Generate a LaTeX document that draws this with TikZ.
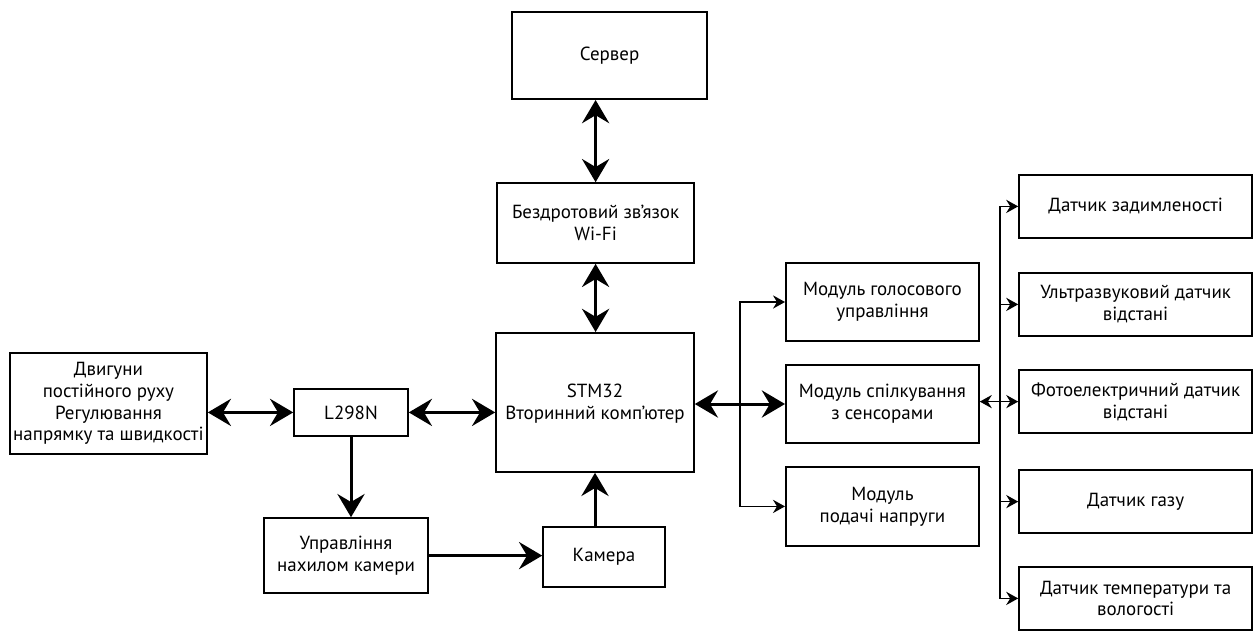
\documentclass[tikz,border=0pt]{standalone}
\usepackage{fontspec}
\setmainfont{PT Sans}
\usetikzlibrary{arrows.meta}
\begin{document}
\begin{tikzpicture}[
  blok/.style={draw,line width=0.4mm,align=center,inner sep=0pt,
    font=\fontsize{13.5}{15.5}\selectfont},
  bigtip/.tip={Stealth[length=5.8mm,width=6.8mm,inset=2mm]},
  smalltip/.tip={Stealth[length=3mm,width=3.3mm,inset=1mm]},
  bigboth/.style={line width=0.75mm,bigtip-bigtip},
  bigone/.style={line width=0.75mm,-bigtip},
  smallone/.style={line width=0.4mm,-smalltip}]
\useasboundingbox (0mm,0mm) rectangle (313.5mm,-157.75mm);
% central column
\node[blok,minimum width=48.8mm,minimum height=21.8mm] (srv) at (152.4mm,-13.9mm) {Сервер};
\node[blok,minimum width=49.3mm,minimum height=20mm] (wifi) at (148.9mm,-55.75mm)
  {Бездротовий зв’язок\\Wi-Fi};
\node[blok,minimum width=49.5mm,minimum height=34.8mm] (stm) at (148.75mm,-100.6mm)
  {STM32\\Вторинний комп’ютер\\[-5mm]\mbox{}};
% left part
\node[blok,minimum width=49.3mm,minimum height=25.3mm] (motor) at (27.1mm,-100.9mm)
  {Двигуни\\постійного руху\\Регулювання\\напрямку та швидкості};
\node[blok,minimum width=28.5mm,minimum height=11.8mm] (l298n) at (87.75mm,-103.1mm) {L298N};
\node[blok,minimum width=41mm,minimum height=18.8mm] (tilt) at (86.5mm,-138.9mm)
  {Управління\\нахилом камери};
\node[blok,minimum width=30.5mm,minimum height=15mm] (cam) at (151mm,-139.25mm) {Камера};
% modules
\node[blok,minimum width=48.3mm,minimum height=19.5mm] (voice) at (220.6mm,-75.5mm)
  {Модуль голосового\\управління};
\node[blok,minimum width=48.3mm,minimum height=19.5mm] (comm) at (220.6mm,-101mm)
  {Модуль спілкування\\з сенсорами};
\node[blok,minimum width=48.3mm,minimum height=19.8mm] (power) at (220.6mm,-126.6mm)
  {Модуль\\подачі напруги};
% sensors
\node[blok,minimum width=58.3mm,minimum height=15.8mm] (smoke) at (283.9mm,-51.6mm)
  {Датчик задимленості};
\node[blok,minimum width=58.3mm,minimum height=15.8mm] (ultra) at (283.9mm,-76.1mm)
  {Ультразвуковий датчик\\відстані};
\node[blok,minimum width=58.3mm,minimum height=15.8mm] (photo) at (283.9mm,-100.4mm)
  {Фотоелектричний датчик\\відстані};
\node[blok,minimum width=58.3mm,minimum height=15.8mm] (gas) at (283.9mm,-125.4mm)
  {Датчик газу};
\node[blok,minimum width=58.3mm,minimum height=15.8mm] (temp) at (283.9mm,-149.6mm)
  {Датчик температури та\\вологості};
\coordinate (lbus) at (185mm,-101mm);
\coordinate (rbus) at (250mm,-100.4mm);
% thick links
\path[bigboth,draw] (wifi.north) to (wifi.north |- srv.south);
\path[bigboth,draw] (wifi.south) to (wifi.south |- stm.north);
\path[bigboth,draw] (l298n.west) to (l298n.west -| motor.east);
\path[bigboth,draw] (l298n.east) to (l298n.east -| stm.west);
\path[bigone,draw] (l298n.south) to (l298n.south |- tilt.north);
\path[bigone,draw] (tilt.east) to (tilt.east -| cam.west);
\path[bigone,draw] (stm.south |- cam.north) to (stm.south);
\path[bigboth,draw] (stm.east |- comm.west) to (comm.west);
% module bus
\path[smallone,draw] (lbus) |- (voice.west);
\path[smallone,draw] (lbus) |- (power.west);
% sensor bus
\path[smallone,draw] (rbus) |- (smoke.west);
\path[smallone,draw] (rbus) |- (temp.west);
\path[smallone,draw] (rbus |- ultra.west) to (ultra.west);
\path[smallone,draw] (rbus) to (photo.west);
\path[smallone,draw] (rbus |- gas.west) to (gas.west);
\path[smallone,draw] (rbus) to (rbus -| comm.east);
\end{tikzpicture}
\end{document}
